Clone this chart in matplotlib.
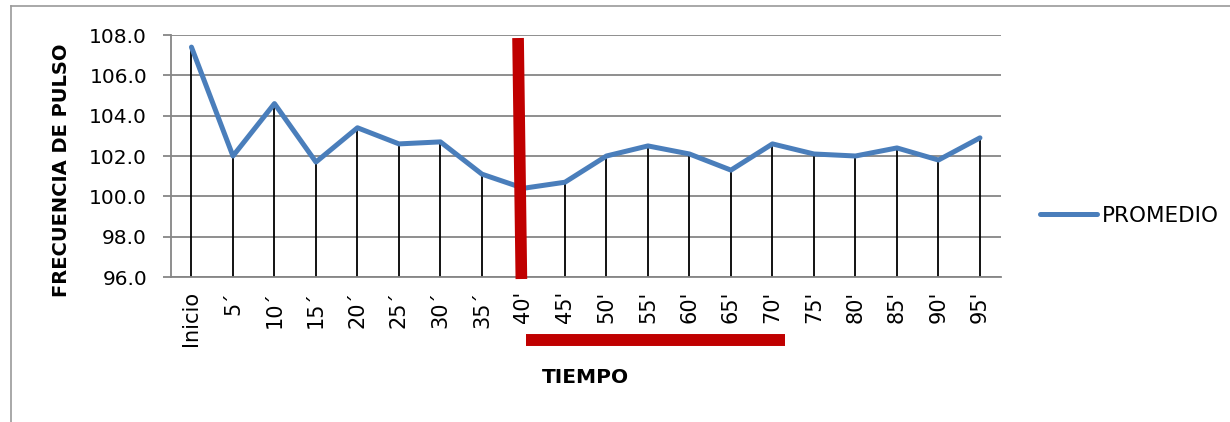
import matplotlib
matplotlib.use("Agg")
import matplotlib.pyplot as plt
from matplotlib.lines import Line2D
import matplotlib.transforms as mtransforms

categories = ["Inicio", "5´", "10´", "15´", "20´", "25´", "30´", "35´", "40'", "45'",
              "50'", "55'", "60'", "65'", "70'", "75'", "80'", "85'", "90'", "95'"]
promedio = [107.4, 102.0, 104.6, 101.7, 103.4, 102.6, 102.7, 101.1, 100.4, 100.7,
            102.0, 102.5, 102.1, 101.3, 102.6, 102.1, 102.0, 102.4, 101.8, 102.9]
yticks = [96.0, 98.0, 100.0, 102.0, 104.0, 106.0, 108.0]

plt.rcParams['font.family'] = ['DejaVu Sans']
FS = 14.5

W, H = 1230, 422
fig = plt.figure(figsize=(W / 100, H / 100), dpi=100)
ax = fig.add_axes([170.7 / W, 1 - 277 / H, 830 / W, 242 / H])

x = list(range(len(categories)))
grid_c = '#868686'

ax.set_ylim(96, 108)
ax.set_xlim(-0.5, len(categories) - 0.5)
ax.set_yticks(yticks)
ax.set_yticklabels([f"{v:.1f}" for v in yticks], fontsize=FS)
ax.yaxis.grid(True, color=grid_c, lw=1.3)
ax.set_axisbelow(True)
ax.set_xticks(x)
ax.set_xticklabels(categories, rotation=90, fontsize=15, va='top')
ax.tick_params(axis='x', length=0, pad=10)
ax.tick_params(axis='y', length=6, width=1.3, color=grid_c, pad=11)

for s in ['top', 'right']:
    ax.spines[s].set_visible(False)
for s in ['left', 'bottom']:
    ax.spines[s].set_color(grid_c)
    ax.spines[s].set_linewidth(1.3)

# drop lines
ax.vlines(x, 96, promedio, color='black', lw=1.3, zorder=2)
ax.plot(x, promedio, color='#4A7EBB', lw=3.6, solid_joinstyle='round',
        solid_capstyle='round', zorder=3, label='PROMEDIO')

# red markers (annotations)
ax.plot([7.87, 7.95], [107.85, 95.9], color='#C00000', lw=8.4,
        solid_capstyle='butt', clip_on=False, zorder=4)
trans = mtransforms.blended_transform_factory(ax.transData, ax.transAxes)
ax.plot([8.06, 14.3], [-0.26, -0.26], color='#C00000', lw=8.6,
        solid_capstyle='butt', transform=trans, clip_on=False, zorder=4)

ax.set_ylabel("FRECUENCIA DE PULSO", fontsize=14, fontweight='bold')
ax.yaxis.set_label_coords(-0.131, 0.442)
ax.yaxis.label.set_va('center')
ax.set_xlabel("TIEMPO", fontsize=FS, fontweight='bold')
ax.xaxis.set_label_coords(0.5, -0.417)
ax.xaxis.label.set_va('center')

fig.legend(loc='center left', bbox_to_anchor=(1031 / W, 1 - 216 / H), frameon=False,
           fontsize=15.5, handlelength=2.65, handletextpad=0.23, borderaxespad=0)

# chart frame
fc = '#9a9a9a'
fig.add_artist(Line2D([11 / W, 1.0], [1 - 6 / H, 1 - 6 / H], color=fc, lw=1.2))
fig.add_artist(Line2D([11 / W, 11 / W], [0, 1 - 6 / H], color=fc, lw=1.2))

fig.savefig("out.png", dpi=100)
